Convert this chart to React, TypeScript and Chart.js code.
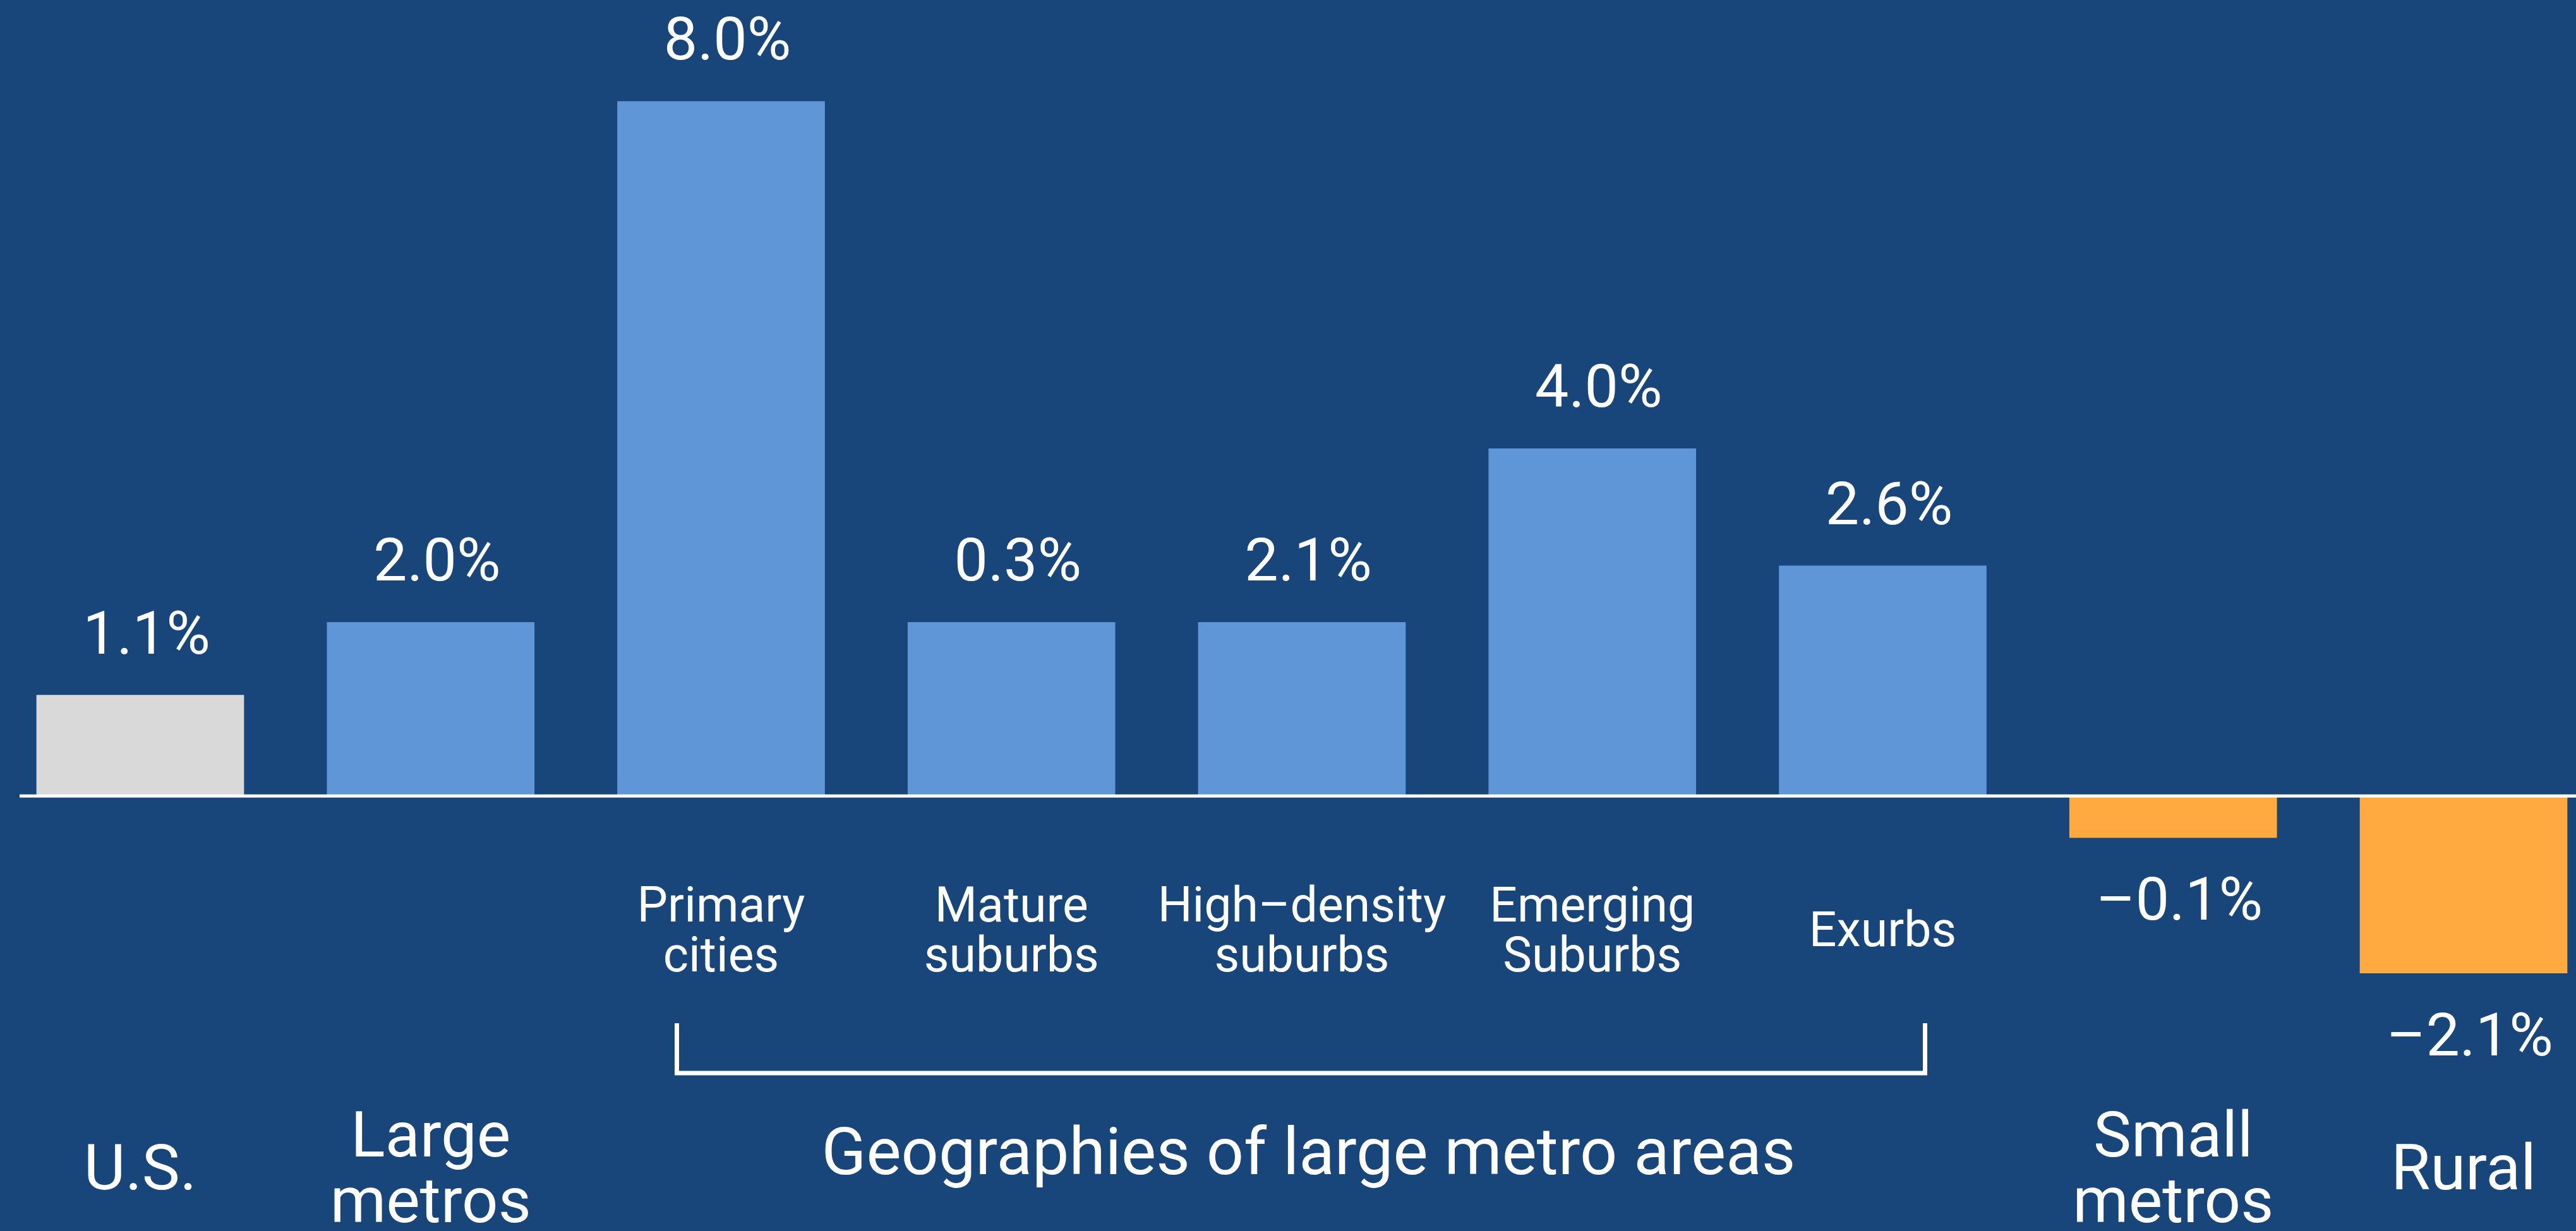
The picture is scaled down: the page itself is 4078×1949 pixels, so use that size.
import React, { useEffect, useRef } from 'react';
import { Chart, registerables } from 'chart.js';

Chart.register(...registerables);

// ---------- data ----------
const categories = [
  'U.S.',
  'Large metros',
  'Primary cities',
  'Mature suburbs',
  'High–density suburbs',
  'Emerging Suburbs',
  'Exurbs',
  'Small metros',
  'Rural',
];
// bar heights as drawn in the picture
const values = [1.16, 2.0, 8.0, 2.0, 2.0, 4.0, 2.65, -0.48, -2.04];
// printed value labels
const valueLabels = ['1.1%', '2.0%', '8.0%', '0.3%', '2.1%', '4.0%', '2.6%', '–0.1%', '–2.1%'];
const kinds = ['total', 'large', 'geo', 'geo', 'geo', 'geo', 'geo', 'small', 'small'];
const mainLabelLines = [['U.S.'], ['Large', 'metros'], [], [], [], [], [], ['Small', 'metros'], ['Rural']];
const subLabelLines = [[], [], ['Primary', 'cities'], ['Mature', 'suburbs'], ['High–density', 'suburbs'], ['Emerging', 'Suburbs'], ['Exurbs'], [], []];
const groupTitle = 'Geographies of large metro areas';
const groupFirst = 2;
const groupLast = 6;

// ---------- styles ----------
const W = 4078;
const H = 1949;
const BG = '#19467A';
const colorByKind: Record<string, string> = {
  total: '#D9D9D9',
  large: '#5F96D8',
  geo: '#5F96D8',
  small: '#FFAA40',
};
const FONT = 'Roboto, "Noto Sans", sans-serif';

const labelsPlugin = {
  id: 'customLabels',
  beforeDraw(chart: any) {
    const ctx = chart.ctx;
    ctx.save();
    ctx.fillStyle = BG;
    ctx.fillRect(0, 0, chart.width, chart.height);
    ctx.restore();
  },
  afterDatasetsDraw(chart: any) {
    const ctx = chart.ctx;
    const xs = chart.scales.x;
    const ys = chart.scales.y;
    const zeroY = ys.getPixelForValue(0);
    const meta = chart.getDatasetMeta(0);
    ctx.save();

    // zero line
    ctx.strokeStyle = '#FFFFFF';
    ctx.lineWidth = 5;
    ctx.beginPath();
    ctx.moveTo(31, zeroY);
    ctx.lineTo(chart.width, zeroY);
    ctx.stroke();

    ctx.fillStyle = '#FFFFFF';
    ctx.textAlign = 'center';
    ctx.textBaseline = 'alphabetic';

    // value labels
    ctx.font = `95px ${FONT}`;
    values.forEach((v, i) => {
      const bar = meta.data[i];
      const cx = bar.x + 10;
      if (v >= 0) ctx.fillText(valueLabels[i], cx, bar.y - 66);
      else ctx.fillText(valueLabels[i], cx, bar.y + 130);
    });

    // sub labels (geographies)
    ctx.font = `77px ${FONT}`;
    subLabelLines.forEach((lines, i) => {
      if (!lines.length) return;
      const cx = xs.getPixelForValue(i);
      const lh = 79;
      const start = 1498 - ((lines.length - 1) * lh) / 2;
      lines.forEach((t, k) => ctx.fillText(t, cx, start + k * lh));
    });

    // main labels
    ctx.font = `101px ${FONT}`;
    mainLabelLines.forEach((lines, i) => {
      if (!lines.length) return;
      const cx = xs.getPixelForValue(i);
      const lh = 104;
      const start = 1883 - ((lines.length - 1) * lh) / 2;
      lines.forEach((t, k) => ctx.fillText(t, cx, start + k * lh));
    });

    // bracket
    const bl = xs.getPixelForValue(groupFirst) - 70;
    const br = xs.getPixelForValue(groupLast) + 67;
    ctx.strokeStyle = '#FFFFFF';
    ctx.lineWidth = 7;
    ctx.lineJoin = 'miter';
    ctx.beginPath();
    ctx.moveTo(bl, 1620);
    ctx.lineTo(bl, 1699);
    ctx.lineTo(br, 1699);
    ctx.lineTo(br, 1620);
    ctx.stroke();

    // group title
    ctx.font = `104px ${FONT}`;
    ctx.fillText(groupTitle, (bl + br) / 2 + 12, 1859);

    ctx.restore();
  },
};

export default function App() {
  const canvasRef = useRef<HTMLCanvasElement | null>(null);

  useEffect(() => {
    const canvas = canvasRef.current;
    if (!canvas) return;
    const chart = new Chart(canvas, {
      type: 'bar',
      data: {
        labels: categories,
        datasets: [
          {
            data: values,
            backgroundColor: kinds.map((k) => colorByKind[k]),
            borderWidth: 0,
            barThickness: 328,
            clip: false as any,
          },
        ],
      },
      options: {
        responsive: false,
        animation: false,
        devicePixelRatio: 1,
        layout: { padding: { left: 222, right: 178, top: 23, bottom: 139 } },
        scales: {
          x: { type: 'category', offset: false, display: false },
          y: { min: -4, max: 9, display: false },
        },
        plugins: {
          legend: { display: false },
          tooltip: { enabled: false },
        },
      },
      plugins: [labelsPlugin],
    });
    return () => chart.destroy();
  }, []);

  return (
    <div
      style={{
        position: 'fixed',
        left: 0,
        top: 0,
        width: W,
        height: H,
        background: BG,
        overflow: 'hidden',
      }}
    >
      <canvas ref={canvasRef} width={W} height={H} style={{ display: 'block', width: W, height: H }} />
    </div>
  );
}
